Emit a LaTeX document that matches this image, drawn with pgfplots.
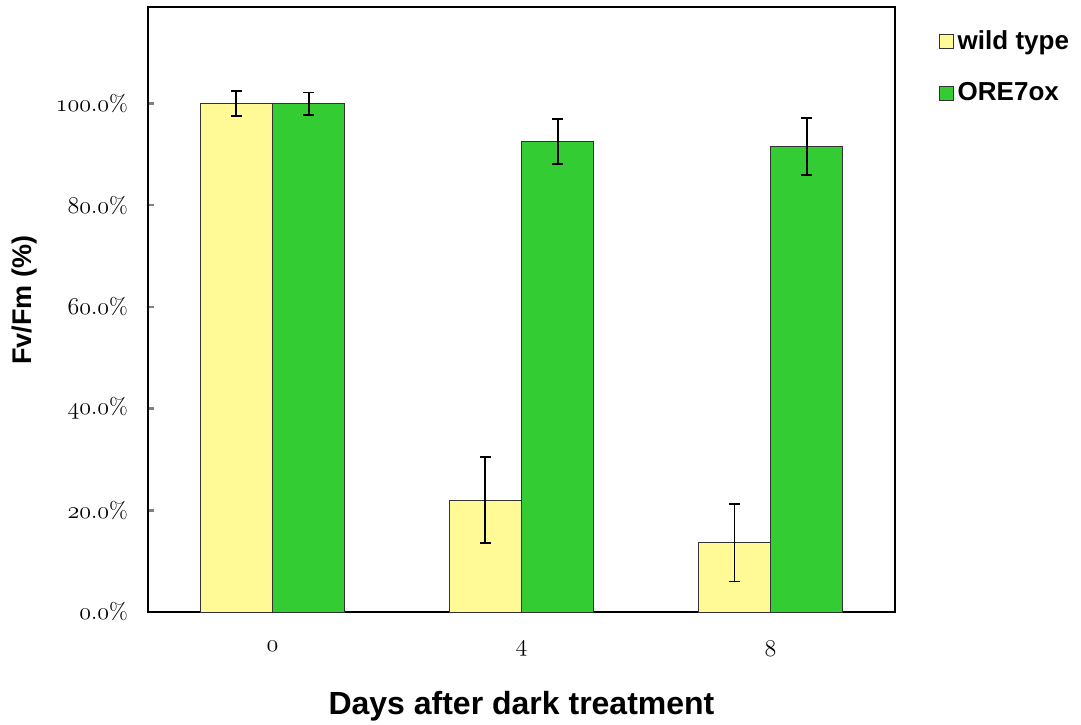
\documentclass[border=0pt]{standalone}
\usepackage{fontspec}
\usepackage{pgfplots}
\pgfplotsset{compat=1.18}
\newfontfamily\labfont{Liberation Sans}
\newcommand\osn[1]{{\usefont{OML}{cmm}{m}{it}#1}}
\newcommand\pct{\%}
\newcommand\dt{.}
\definecolor{wtyellow}{RGB}{255,250,150}
\definecolor{oregreen}{RGB}{51,204,51}
\begin{document}
\begin{tikzpicture}
\path[use as bounding box] (-74pt,-56pt) rectangle (466.5pt,306pt);
\begin{axis}[
  at={(0pt,0pt)}, anchor=south west,
  scale only axis, width=373.5pt, height=302.5pt,
  xmin=-0.5, xmax=2.5, ymin=0, ymax=119,
  ybar=0pt, bar width=0.29,
  axis line style={line width=1.4pt},
  xtick={0,1,2}, xticklabels={\osn{0},\osn{4},\osn{8}},
  xtick style={draw=none},
  xticklabel style={yshift=-11pt, font=\fontsize{12}{14}\selectfont},
  ytick={0,20,40,60,80,100},
  yticklabels={\osn{0}\dt\osn{0}\pct,\osn{20}\dt\osn{0}\pct,\osn{40}\dt\osn{0}\pct,\osn{60}\dt\osn{0}\pct,\osn{80}\dt\osn{0}\pct,\osn{100}\dt\osn{0}\pct},
  yticklabel style={font=\fontsize{11.5}{13}\selectfont, xshift=-6.5pt},
  ytick pos=left, tick align=inside, major tick length=3pt,
  ytick style={line width=1.2pt},
  ylabel={\labfont\bfseries Fv/Fm (\%)},
  ylabel style={font=\fontsize{13.5}{16}\selectfont, at={(axis description cs:-0.165,0.515)}, anchor=center},
  xlabel={\labfont\bfseries Days after dark treatment},
  xlabel style={font=\fontsize{16}{18}\selectfont, at={(axis description cs:0.5,-0.155)}, anchor=center},
  legend style={draw=none, fill=none, at={(axis description cs:1.058,0.968)}, anchor=north west,
    font=\labfont\bfseries\fontsize{13}{15}\selectfont, row sep=11pt, inner sep=0pt},
  legend cell align=left,
  legend image code/.code={\draw[#1, line width=0.5pt] (0pt,-3.5pt) rectangle (7pt,3.5pt);},
]
\addplot[fill=wtyellow, draw=black!80, line width=0.5pt,
  error bars/.cd, y dir=both, y explicit,
  error bar style={line width=0.9pt, black},
  error mark options={rotate=90, mark size=2.6pt, line width=0.9pt, black}]
  coordinates {(0,100) +- (0,2.4) (1,22.0) +- (0,8.5) (2,13.6) +- (0,7.6)};
\addplot[fill=oregreen, draw=black!80, line width=0.5pt,
  error bars/.cd, y dir=both, y explicit,
  error bar style={line width=0.9pt, black},
  error mark options={rotate=90, mark size=2.6pt, line width=0.9pt, black}]
  coordinates {(0,100) +- (0,2.2) (1,92.5) +- (0,4.4) (2,91.5) +- (0,5.6)};
\legend{wild type, ORE7ox}
\end{axis}
\end{tikzpicture}
\end{document}
